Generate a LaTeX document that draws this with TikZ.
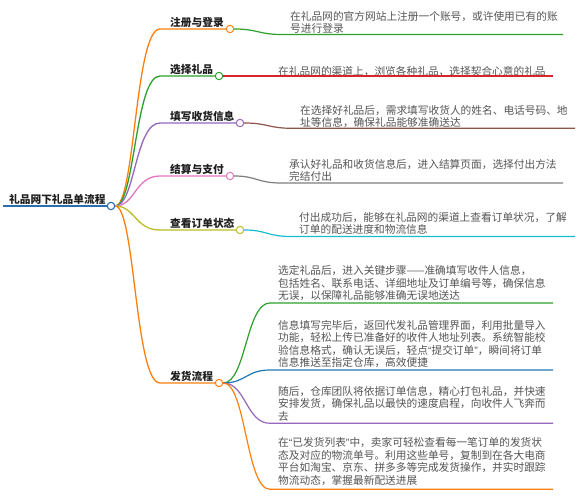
\documentclass[tikz,border=0pt]{standalone}
\usepackage{fontspec}
\setmainfont{Noto Sans CJK SC}
\newfontfamily\quotefont{Liberation Sans}
\newcommand\qo{{\quotefont “}}
\newcommand\qc{{\quotefont ”}}
\definecolor{torange}{HTML}{FF7F0E}
\definecolor{tgreen}{HTML}{2CA02C}
\definecolor{tred}{HTML}{D62728}
\definecolor{tpurple}{HTML}{9467BD}
\definecolor{tbrown}{HTML}{8C564B}
\definecolor{tpink}{HTML}{E377C2}
\definecolor{tgray}{HTML}{7F7F7F}
\definecolor{tolive}{HTML}{BCBD22}
\definecolor{tcyan}{HTML}{17BECF}
\definecolor{tblue}{HTML}{1F77B4}
\definecolor{rootblue}{HTML}{2A6EAE}
\definecolor{labc}{HTML}{1E1E1E}
\definecolor{descc}{HTML}{555555}
\begin{document}
\begin{tikzpicture}[x=1pt,y=-1pt,
  dot/.style={circle, draw=#1, fill=white, line width=1pt, minimum size=7.4pt, inner sep=0pt},
  br/.style={line width=1.3pt, draw=#1},
  ul/.style={line width=1.2pt, draw=#1},
  lab/.style={font=\fontsize{10.7pt}{12.5pt}\selectfont\bfseries, text=labc, inner sep=0pt, anchor=base west},
  desc/.style={font=\fontsize{10.7pt}{12.5pt}\selectfont, text=descc, inner sep=0pt, anchor=base west, text width=290pt, align=left}]
\useasboundingbox[fill=white] (0,0) rectangle (579,500);

% root
\coordinate (r0) at (3,206);
\node[dot=rootblue, line width=1.1pt] (c0) at (111,206) {};
\draw[line width=2.4pt, rootblue] (r0) -- (c0.west);
\node[lab] (root) at (9,203.5) {礼品网下礼品单流程};

% branch circles
\node[dot=torange] (c1) at (230,29) {};
\node[dot=tgreen] (c2) at (219,76) {};
\node[dot=tpurple] (c3) at (240,123) {};
\node[dot=tpink] (c4) at (230,176) {};
\node[dot=tolive] (c5) at (240,230) {};
\node[dot=torange] (c6) at (219,383) {};

\coordinate (k1) at (160,29);
\coordinate (k2) at (160,76);
\coordinate (k3) at (160,123);
\coordinate (k4) at (160,176);
\coordinate (k5) at (160,230);
\coordinate (k6) at (160,383);

\draw[br=torange] (c0.east) .. controls (135,206) and (135,29) .. (k1) -- (c1.west);
\draw[br=tgreen] (c0.east) .. controls (135,206) and (135,76) .. (k2) -- (c2.west);
\draw[br=tpurple] (c0.east) .. controls (135,206) and (135,123) .. (k3) -- (c3.west);
\draw[br=tpink] (c0.east) .. controls (135,206) and (135,176) .. (k4) -- (c4.west);
\draw[br=tolive] (c0.east) .. controls (135,206) and (135,230) .. (k5) -- (c5.west);
\draw[br=torange] (c0.east) .. controls (135,206) and (135,383) .. (k6) -- (c6.west);

\node[lab] (l1) at (170,26.7) {注册与登录};
\node[lab] (l2) at (170,73.7) {选择礼品};
\node[lab] (l3) at (170,120.7) {填写收货信息};
\node[lab] (l4) at (170,173.7) {结算与支付};
\node[lab] (l5) at (170,227.7) {查看订单状态};
\node[lab] (l6) at (170,380.7) {发货流程};

% descriptions
\node[desc] (d1) at (290,20.3) {在礼品网的官方网站上注册一个账号，或许使用已有的账\\号进行登录};
\coordinate (u1) at (282,34.5); \coordinate (e1) at (563,34.5);
\draw[ul=tgreen] (c1.east) .. controls (258,29) and (258,34.5) .. (u1) -- (e1);

\node[desc] (d2) at (278,75.3) {在礼品网的渠道上，浏览各种礼品，选择契合心意的礼品};
\coordinate (e2) at (553,76);
\draw[ul=tred] (c2.east) -- (e2);

\node[desc] (d3) at (300,114.5) {在选择好礼品后，需求填写收货人的姓名、电话号码、地\\址等信息，确保礼品能够准确送达};
\coordinate (u3) at (292,128.3); \coordinate (e3) at (575,128.3);
\draw[ul=tbrown] (c3.east) .. controls (268,123) and (268,128.3) .. (u3) -- (e3);

\node[desc] (d4) at (289,168.2) {承认好礼品和收货信息后，进入结算页面，选择付出方法\\完结付出};
\coordinate (u4) at (281,183); \coordinate (e4) at (563,183);
\draw[ul=tgray] (c4.east) .. controls (257,176) and (257,183) .. (u4) -- (e4);

\node[desc] (d5) at (299,221.5) {付出成功后，能够在礼品网的渠道上查看订单状况，了解\\订单的配送进度和物流信息};
\coordinate (u5) at (291,236.5); \coordinate (e5) at (575,236.5);
\draw[ul=tcyan] (c5.east) .. controls (267,230) and (267,236.5) .. (u5) -- (e5);

% shipping sub-branches
\node[desc] (d6a) at (278,274.8) {选定礼品后，进入关键步骤——准确填写收件人信息，\\包括姓名、联系电话、详细地址及订单编号等，确保信息\\无误，以保障礼品能够准确无误地送达};
\coordinate (u6a) at (270,303); \coordinate (e6a) at (553,303);
\draw[ul=tgreen] (c6.east) .. controls (246,383) and (246,303) .. (u6a) -- (e6a);

\node[desc] (d6b) at (278,329.3) {信息填写完毕后，返回代发礼品管理界面，利用批量导入\\功能，轻松上传已准备好的收件人地址列表。系统智能校\\验信息格式，确认无误后，轻点\qo 提交订单\qc ，瞬间将订单\\信息推送至指定仓库，高效便捷};
\coordinate (u6b) at (270,370); \coordinate (e6b) at (553,370);
\draw[ul=tblue] (c6.east) .. controls (246,383) and (246,370) .. (u6b) -- (e6b);

\node[desc] (d6c) at (278,395.3) {随后，仓库团队将依据订单信息，精心打包礼品，并快速\\安排发货，确保礼品以最快的速度启程，向收件人飞奔而\\去};
\coordinate (u6c) at (270,423.3); \coordinate (e6c) at (553,423.3);
\draw[ul=tpurple] (c6.east) .. controls (246,383) and (246,423.3) .. (u6c) -- (e6c);

\node[desc] (d6d) at (278,446.8) {在\qo 已发货列表\qc 中，卖家可轻松查看每一笔订单的发货状\\态及对应的物流单号。利用这些单号，复制到在各大电商\\平台如淘宝、京东、拼多多等完成发货操作，并实时跟踪\\物流动态，掌握最新配送进展};
\coordinate (u6d) at (270,489.3); \coordinate (e6d) at (553,489.3);
\draw[ul=torange] (c6.east) .. controls (246,383) and (246,489.3) .. (u6d) -- (e6d);
\end{tikzpicture}
\end{document}
